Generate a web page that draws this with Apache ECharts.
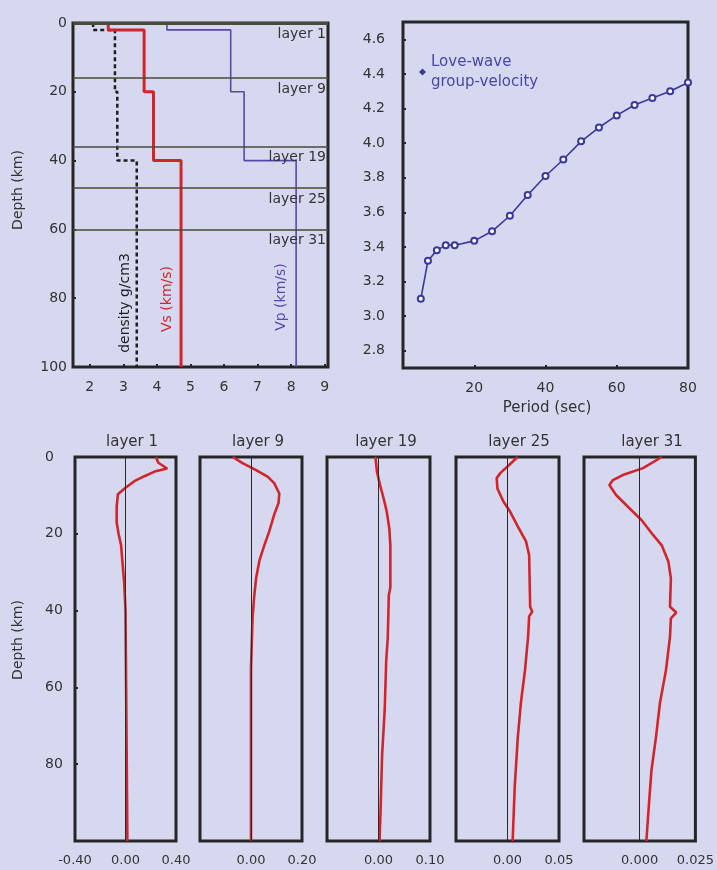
<!DOCTYPE html>
<html><head><meta charset="utf-8">
<script src="https://cdn.jsdelivr.net/npm/echarts@6/dist/echarts.min.js"></script>
<style>html,body{margin:0;padding:0;background:#d6d8ef}#c{width:717px;height:870px}</style>
</head><body><div id="c"></div>
<script>
// ---------- Top-left: velocity / density model ----------
const modelDepthBreaks = [0, 2, 20, 40, 100];
const vsValues = [2.55, 3.62, 3.9, 4.72];
const vpValues = [4.3, 6.2, 6.6, 8.15];
const densityValues = [2.1, 2.75, 2.82, 3.4];
const layerLineDepths = [0, 16, 36, 48, 60];
const layerLineLabels = ['layer 1', 'layer 9', 'layer 19', 'layer 25', 'layer 31'];
const modelXTicks = [2, 3, 4, 5, 6, 7, 8, 9];
const modelDepthTicks = [0, 20, 40, 60, 80, 100];

// ---------- Top-right: Love-wave group velocity ----------
const periods = [5, 7, 9.5, 12, 14.5, 20, 25, 30, 35, 40, 45, 50, 55, 60, 65, 70, 75, 80];
const groupVelocity = [3.10, 3.32, 3.38, 3.41, 3.41, 3.435, 3.49, 3.58, 3.70, 3.81, 3.905, 4.01, 4.09, 4.16, 4.22, 4.26, 4.30, 4.35];
const periodTicks = [20, 40, 60, 80];
const velocityTicks = [2.8, 3.0, 3.2, 3.4, 3.6, 3.8, 4.0, 4.2, 4.4, 4.6];

// ---------- Bottom: sensitivity kernels ----------
const kernelTitles = ['layer 1', 'layer 9', 'layer 19', 'layer 25', 'layer 31'];
const kernelRanges = [0.4, 0.2, 0.1, 0.05, 0.025];
const kernelDecimals = [2, 2, 2, 2, 3];
const kernelDepthTicks = [0, 20, 40, 60, 80];

const k1Depth = [0, 1.5, 3, 3.8, 5, 6.3, 8, 9.7, 13, 17, 20, 23, 29, 33, 40, 60, 80, 100];
const k1Value = [0.24, 0.26, 0.33, 0.23, 0.15, 0.07, 0.0, -0.06, -0.07, -0.07, -0.055, -0.035, -0.02, -0.01, 0.0, 0.005, 0.01, 0.015];

const k2Depth = [0, 1.6, 3.4, 5.1, 6.8, 9.5, 12, 15, 19.5, 23, 27, 31.6, 36, 42, 55, 100];
const k2Value = [-0.072, -0.033, 0.02, 0.065, 0.091, 0.111, 0.108, 0.091, 0.071, 0.052, 0.033, 0.02, 0.013, 0.006, 0.0, 0.0];

const k3Depth = [0, 3.8, 7.3, 10.8, 14.2, 18.6, 23, 34, 36, 47, 53, 66, 77.6, 92, 100];
const k3Value = [-0.006, -0.003, 0.003, 0.01, 0.016, 0.021, 0.023, 0.023, 0.02, 0.018, 0.015, 0.012, 0.007, 0.004, 0.002];

const k4Depth = [0, 2.1, 4.2, 5.5, 8.2, 11.6, 14.2, 18.6, 22, 25.5, 39, 40.3, 41.5, 46.8, 55.5, 64, 73, 86, 100];
const k4Value = [0.0098, 0.0016, -0.007, -0.0105, -0.0098, -0.004, 0.0025, 0.011, 0.018, 0.021, 0.022, 0.024, 0.021, 0.020, 0.017, 0.013, 0.010, 0.007, 0.005];

const k5Depth = [0, 2.9, 4.7, 6, 7.3, 9.9, 13.4, 16.4, 20.3, 23, 27.3, 31.6, 39, 40.5, 42, 46.8, 55.5, 64, 73, 81.5, 90, 100];
const k5Value = [0.0099, 0.0015, -0.0076, -0.012, -0.0136, -0.0106, -0.0045, 0.0008, 0.006, 0.0099, 0.0129, 0.014, 0.0136, 0.0164, 0.014, 0.0136, 0.0118, 0.0091, 0.0073, 0.0053, 0.0042, 0.003];

const kernelDepths = [k1Depth, k2Depth, k3Depth, k4Depth, k5Depth];
const kernelValues = [k1Value, k2Value, k3Value, k4Value, k5Value];

// ---------- styling ----------
const FONT = 'DejaVu Sans';
const RED = '#d2252b';
const VP_BLUE = '#5a46b0';
const DISP_BLUE = '#3b389c';
const BORDER = '#262626';
const OLIVE = '#4a4a38';
const TXT = '#333';

function stepProfile(breaks, vals) {
  const out = [];
  for (let i = 0; i < vals.length; i++) {
    out.push([vals[i], breaks[i]]);
    out.push([vals[i], breaks[i + 1]]);
  }
  return out;
}

const bottomLayout = [
  { left: 75, width: 101 },
  { left: 200, width: 102 },
  { left: 327, width: 103 },
  { left: 456, width: 103 },
  { left: 584, width: 112 }
];

const grids = [
  { left: 73, top: 23, width: 255, height: 344, show: true, borderColor: BORDER, borderWidth: 3, backgroundColor: 'transparent' },
  { left: 403, top: 22, width: 285, height: 346, show: true, borderColor: BORDER, borderWidth: 3, backgroundColor: 'transparent' }
].concat(bottomLayout.map(b => ({ left: b.left, width: b.width, top: 457, height: 384, show: true, borderColor: BORDER, borderWidth: 3, backgroundColor: 'transparent' })));

const lbl = (extra) => Object.assign({ fontFamily: FONT, fontSize: 14, color: TXT }, extra);
const noLine = { show: false, onZero: false };

const xAxes = [
  { gridIndex: 0, type: 'value', position: 'bottom', min: 1.5, max: 9.1, axisLine: noLine, splitLine: { show: false },
    axisTick: { inside: true, length: 3, customValues: modelXTicks, lineStyle: { color: BORDER, width: 2 } },
    axisLabel: lbl({ customValues: modelXTicks, margin: 13 }) },
  { gridIndex: 1, type: 'value', position: 'bottom', min: 0, max: 80, axisLine: noLine, splitLine: { show: false },
    axisTick: { inside: true, length: 3, customValues: periodTicks, lineStyle: { color: BORDER, width: 2 } },
    axisLabel: lbl({ customValues: periodTicks, margin: 13 }) }
].concat(kernelRanges.map((r, i) => ({
  gridIndex: i + 2, type: 'value', position: 'bottom', min: -r, max: r, axisLine: noLine, splitLine: { show: false },
  axisTick: { show: false },
  axisLabel: lbl({ customValues: i === 0 ? [-r, 0, r] : [0, r], margin: 13, fontSize: 13,
    formatter: v => v.toFixed(kernelDecimals[i]) })
})));

const yAxes = [
  { gridIndex: 0, type: 'value', position: 'left', inverse: true, min: 0, max: 100, axisLine: noLine, splitLine: { show: false },
    axisTick: { inside: true, length: 3, customValues: modelDepthTicks, lineStyle: { color: BORDER, width: 2 } },
    axisLabel: lbl({ customValues: modelDepthTicks, margin: 6 }) },
  { gridIndex: 1, type: 'value', position: 'left', min: 2.7, max: 4.7, axisLine: noLine, splitLine: { show: false },
    axisTick: { inside: true, length: 3, customValues: velocityTicks, lineStyle: { color: BORDER, width: 2 } },
    axisLabel: lbl({ customValues: velocityTicks, margin: 18, formatter: v => v.toFixed(1) }) }
].concat(kernelRanges.map((r, i) => ({
  gridIndex: i + 2, type: 'value', position: 'left', inverse: true, min: 0, max: 100, axisLine: noLine, splitLine: { show: false },
  axisTick: { show: i === 0, inside: true, length: 3, customValues: kernelDepthTicks, lineStyle: { color: BORDER, width: 2 } },
  axisLabel: lbl({ show: i === 0, customValues: kernelDepthTicks, align: 'left', margin: 30 })
})));

const series = [
  { name: 'density', type: 'line', xAxisIndex: 0, yAxisIndex: 0, showSymbol: false, silent: true,
    data: stepProfile(modelDepthBreaks, densityValues),
    lineStyle: { color: '#1e1e1e', width: 2.5, type: [4, 3] } },
  { name: 'Vp', type: 'line', xAxisIndex: 0, yAxisIndex: 0, showSymbol: false, silent: true,
    data: stepProfile(modelDepthBreaks, vpValues),
    lineStyle: { color: VP_BLUE, width: 1.6 } },
  { name: 'Vs', type: 'line', xAxisIndex: 0, yAxisIndex: 0, showSymbol: false, silent: true,
    data: stepProfile(modelDepthBreaks, vsValues),
    lineStyle: { color: RED, width: 3 } },
  { name: 'layers', type: 'line', xAxisIndex: 0, yAxisIndex: 0, showSymbol: false, silent: true,
    data: [[1.5, 0]], lineStyle: { opacity: 0 },
    markLine: {
      silent: true, symbol: 'none', animation: false,
      data: layerLineDepths.map((d, i) => ({
        yAxis: d,
        lineStyle: { color: OLIVE, width: d === 0 ? 3 : 1.6, type: 'solid' },
        label: { show: true, position: 'insideEndBottom', formatter: layerLineLabels[i],
          fontFamily: FONT, fontSize: 14, color: TXT, distance: [2, 4] }
      }))
    } },
  { name: 'Love-wave\ngroup-velocity', type: 'line', xAxisIndex: 1, yAxisIndex: 1,
    data: periods.map((p, i) => [p, groupVelocity[i]]),
    symbol: 'emptyCircle', symbolSize: 6, showSymbol: true,
    itemStyle: { color: DISP_BLUE, borderWidth: 1.3 },
    lineStyle: { color: DISP_BLUE, width: 1.6 } }
].concat(kernelValues.map((vals, i) => ({
  name: kernelTitles[i], type: 'line', xAxisIndex: i + 2, yAxisIndex: i + 2, showSymbol: false, silent: true,
  data: kernelDepths[i].map((d, j) => [vals[j], d]),
  lineStyle: { color: RED, width: 2.6 }, z: 3,
  markLine: { silent: true, symbol: 'none', animation: false, label: { show: false },
    lineStyle: { color: '#2a2a2a', width: 1, type: 'solid' }, data: [{ xAxis: 0 }] }
})));

function rtext(x, y, text, color, rot, size) {
  return { type: 'text', x: x, y: y, rotation: rot || 0, silent: true,
    style: { text: text, fill: color, font: (size || 14) + 'px "' + FONT + '"',
      textAlign: 'center', textVerticalAlign: 'middle', align: 'center', verticalAlign: 'middle' } };
}

const graphics = [
  rtext(18, 190, 'Depth (km)', TXT, Math.PI / 2, 14),
  rtext(18, 640, 'Depth (km)', TXT, Math.PI / 2, 14),
  rtext(125, 303, 'density g/cm3', '#1e1e1e', Math.PI / 2, 14),
  rtext(167, 299, 'Vs (km/s)', RED, Math.PI / 2, 14),
  rtext(281, 297, 'Vp (km/s)', VP_BLUE, Math.PI / 2, 14),
  rtext(547, 408, 'Period (sec)', TXT, 0, 15)
];
const titleCenters = [132, 258, 386, 519, 652];
kernelTitles.forEach((t, i) => graphics.push(rtext(titleCenters[i], 442, t, TXT, 0, 15)));

const chart = echarts.init(document.getElementById('c'));
chart.setOption({
  animation: false,
  backgroundColor: '#d6d8ef',
  grid: grids,
  xAxis: xAxes,
  yAxis: yAxes,
  legend: {
    data: ['Love-wave\ngroup-velocity'], left: 414, top: 47, orient: 'vertical',
    icon: 'diamond', itemWidth: 7, itemHeight: 7, itemGap: 4,
    textStyle: { fontFamily: FONT, fontSize: 15, color: '#4a46a6', lineHeight: 20 }
  },
  graphic: graphics,
  series: series
});
</script>
</body></html>
